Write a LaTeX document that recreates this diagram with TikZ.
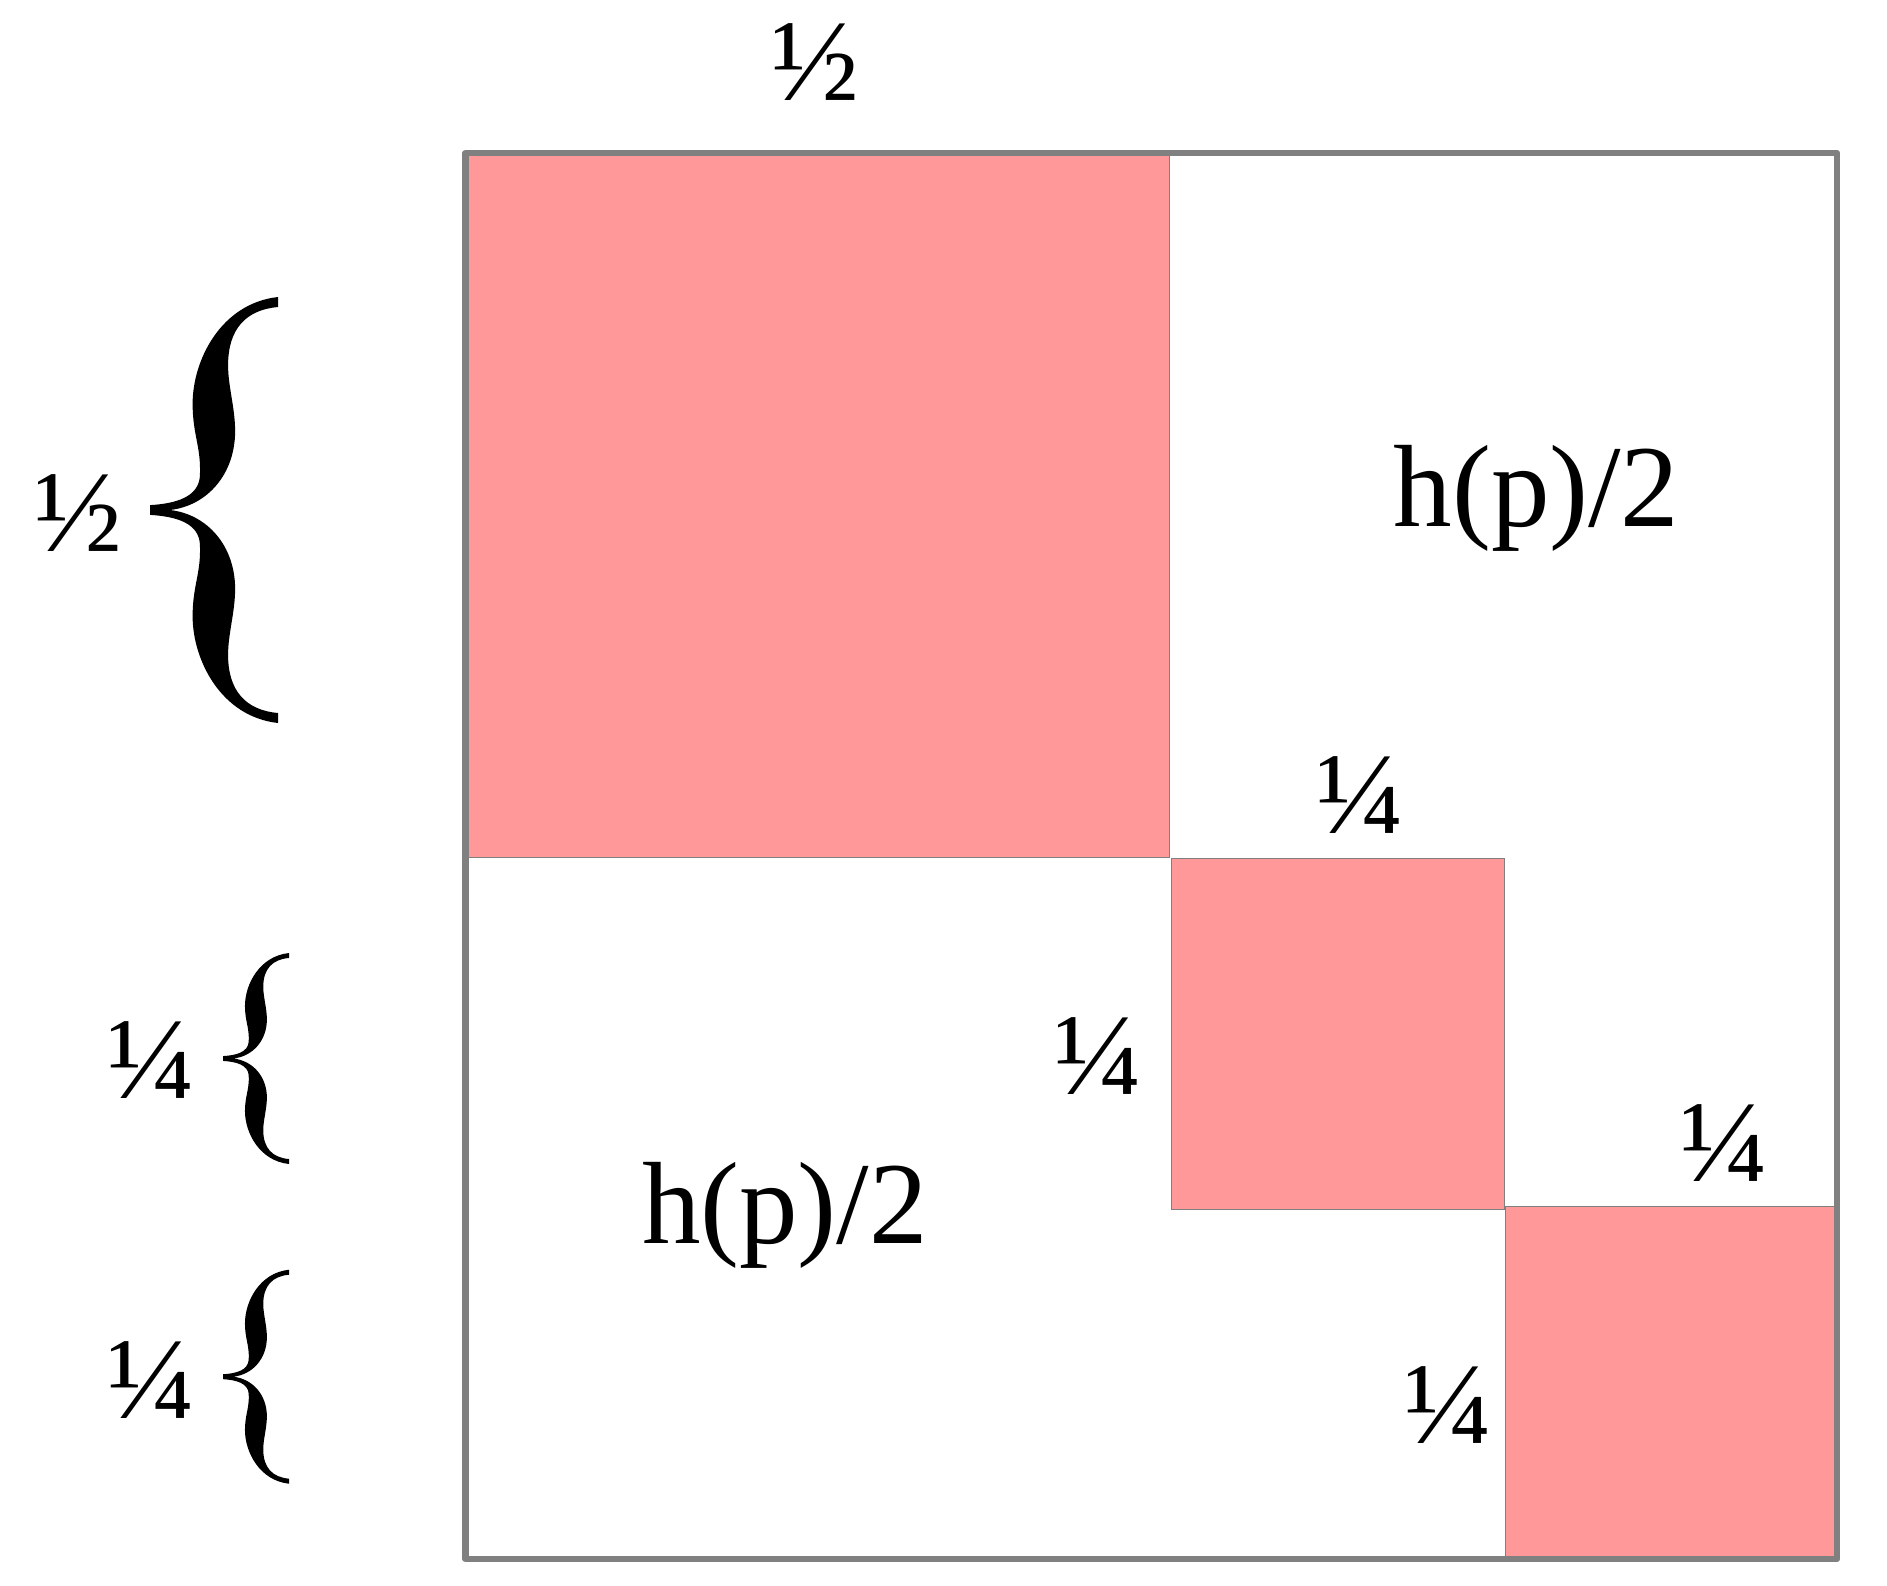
\documentclass[tikz,border=0pt]{standalone}
\usepackage{fontspec}
\setmainfont{Liberation Serif}
\definecolor{pinkfill}{RGB}{255,153,153}
\definecolor{edgegray}{RGB}{128,128,128}
\newcommand{\mybrace}[4]{%
  \fill[black, shift={(#1,#2)}, xscale=#3, yscale=#4]
    (0,-0.023) .. controls (0.2,-0.03) and (0.38,-0.06) .. (0.39,-0.16)
    .. controls (0.4,-0.3) and (0.333,-0.35) .. (0.333,-0.5)
    .. controls (0.333,-0.7) and (0.55,-0.97) .. (1,-1)
    -- (1,-0.953)
    .. controls (0.75,-0.94) and (0.61,-0.85) .. (0.61,-0.68)
    .. controls (0.61,-0.58) and (0.665,-0.48) .. (0.665,-0.37)
    .. controls (0.665,-0.17) and (0.45,-0.02) .. (0.156,0)
    .. controls (0.45,0.02) and (0.665,0.17) .. (0.665,0.37)
    .. controls (0.665,0.48) and (0.61,0.58) .. (0.61,0.68)
    .. controls (0.61,0.85) and (0.75,0.94) .. (1,0.953)
    -- (1,1)
    .. controls (0.55,0.97) and (0.333,0.7) .. (0.333,0.5)
    .. controls (0.333,0.35) and (0.4,0.3) .. (0.39,0.16)
    .. controls (0.38,0.06) and (0.2,0.03) .. (0,0.023)
    -- cycle;}
\tikzset{
  lbl/.style={font=\fontsize{58.5}{60}\selectfont, inner sep=0pt, text=black},
  pinkbox/.style={fill=pinkfill, draw=edgegray, line width=0.5pt},
  outerbox/.style={draw=edgegray, line width=3.25pt, line join=round}
}
\begin{document}
\begin{tikzpicture}[x=0.5pt,y=-0.5pt]
\useasboundingbox (0,0) rectangle (1887,1586);
% pink blocks
\path[pinkbox] (465.5,153) rectangle (1169.5,857.5);
\path[pinkbox] (1171,858.5) rectangle (1504,1209);
\path[pinkbox] (1505,1206) rectangle (1837,1559);
% outer frame
\path[outerbox] (465.5,153) rectangle (1837,1559);
% braces
\mybrace{150}{510}{128}{213}
\mybrace{223}{1058.5}{66}{105.5}
\mybrace{223}{1376.7}{66}{107}
% labels
\node[lbl] (top) at (815,62) {½};
\node[lbl] (lhalf) at (78,513) {½};
\node[lbl] (lq1) at (151,1060) {¼};
\node[lbl] (lq2) at (151,1380) {¼};
\node[lbl] (q2top) at (1360,795) {¼};
\node[lbl] (q2left) at (1098,1056) {¼};
\node[lbl] (q3top) at (1724,1143) {¼};
\node[lbl] (q3left) at (1448,1405) {¼};
\node[lbl, anchor=base] (hpa) at (1536.5,526) {h(p)/2};
\node[lbl, anchor=base] (hpb) at (785,1243) {h(p)/2};
\end{tikzpicture}
\end{document}
